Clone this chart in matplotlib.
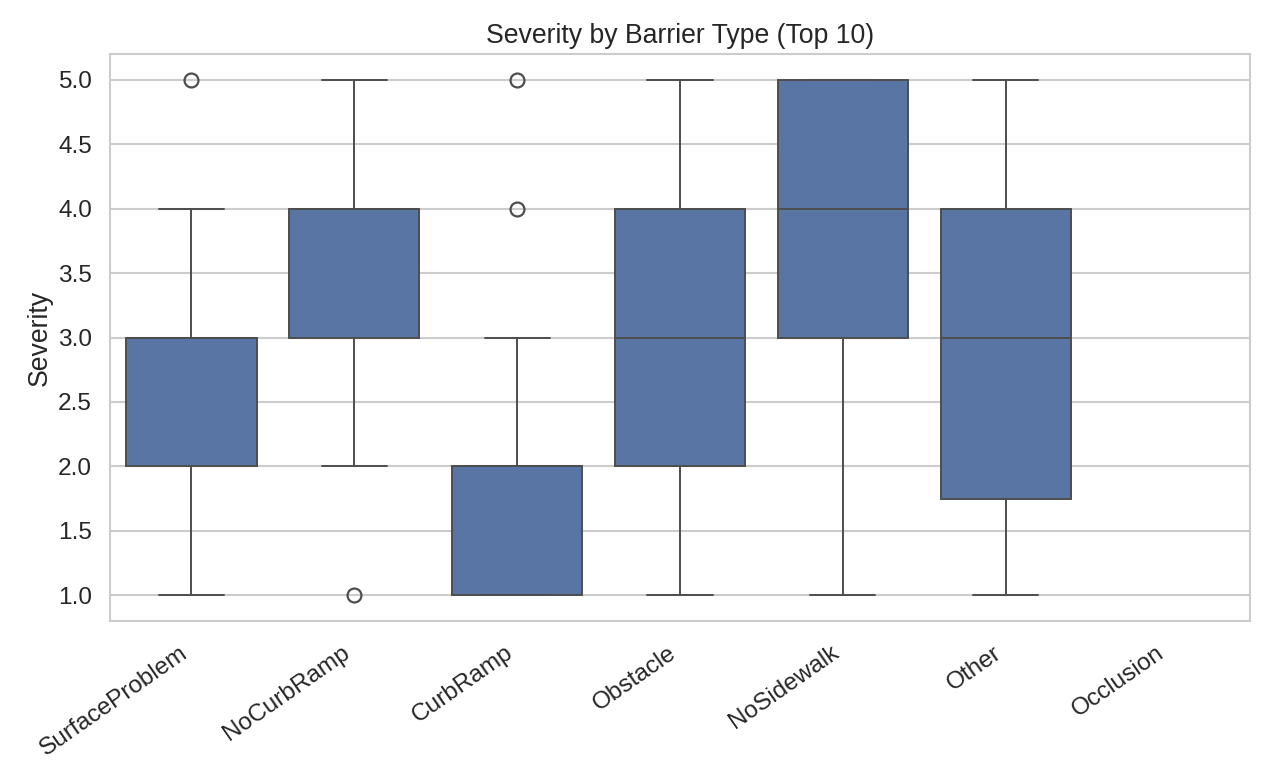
import matplotlib
matplotlib.use("Agg")
import matplotlib.pyplot as plt
import seaborn as sns

categories = ["SurfaceProblem", "NoCurbRamp", "CurbRamp", "Obstacle", "NoSidewalk", "Other", "Occlusion"]
q1 = [2.0, 3.0, 1.0, 2.0, 3.0, 1.75]
med = [3.0, 4.0, 2.0, 3.0, 4.0, 3.0]
q3 = [3.0, 4.0, 2.0, 4.0, 5.0, 4.0]
whislo = [1.0, 2.0, 1.0, 1.0, 1.0, 1.0]
whishi = [4.0, 5.0, 3.0, 5.0, 5.0, 5.0]
fliers = [[5.0], [1.0], [4.0, 5.0], [], [], []]
yticks = [1.0, 1.5, 2.0, 2.5, 3.0, 3.5, 4.0, 4.5, 5.0]

sns.set_theme(style="whitegrid")
plt.rcParams['font.family'] = ['Liberation Sans', 'DejaVu Sans']

fig = plt.figure(figsize=(12.7, 7.77), dpi=100)
ax = fig.add_axes([110/1270, 1 - 621/777, 1140/1270, 567/777])

stats = []
for i in range(len(q1)):
    stats.append(dict(label=categories[i], q1=q1[i], med=med[i], q3=q3[i],
                      whislo=whislo[i], whishi=whishi[i], fliers=fliers[i]))

line_c = "#4d4d4d"
box_c = "#5975a4"
ax.bxp(stats, positions=list(range(len(q1))), widths=0.8, patch_artist=True,
       boxprops=dict(facecolor=box_c, edgecolor=line_c, linewidth=1.4),
       medianprops=dict(color=line_c, linewidth=1.4),
       whiskerprops=dict(color=line_c, linewidth=1.4),
       capprops=dict(color=line_c, linewidth=1.4),
       flierprops=dict(marker='o', markerfacecolor='none', markeredgecolor=line_c,
                       markersize=10, markeredgewidth=1.6),
       capwidths=0.4, zorder=3)

text_c = "#262626"
ax.set_xlim(-0.5, len(categories) - 0.5)
ax.set_ylim(0.8, 5.2)
ax.set_xticks(range(len(categories)))
ax.set_xticklabels(categories, rotation=35, ha='right', fontsize=17.6, color=text_c)
ax.set_yticks(yticks)
ax.set_yticklabels([f"{v:.1f}" for v in yticks], fontsize=17.6, color=text_c)
ax.tick_params(axis='y', length=0, pad=13)
ax.tick_params(axis='x', length=0, pad=15)
ax.grid(False, axis='x')
ax.grid(True, axis='y', color="#cccccc", linewidth=1.5)
ax.set_axisbelow(True)
for s in ax.spines.values():
    s.set_color("#cccccc")
    s.set_linewidth(1.5)
ax.set_ylabel("Severity", fontsize=19.2, color=text_c, labelpad=4)
ax.set_title("Severity by Barrier Type (Top 10)", fontsize=19.2, color=text_c, pad=8)
fig.savefig("out.png", dpi=100)
